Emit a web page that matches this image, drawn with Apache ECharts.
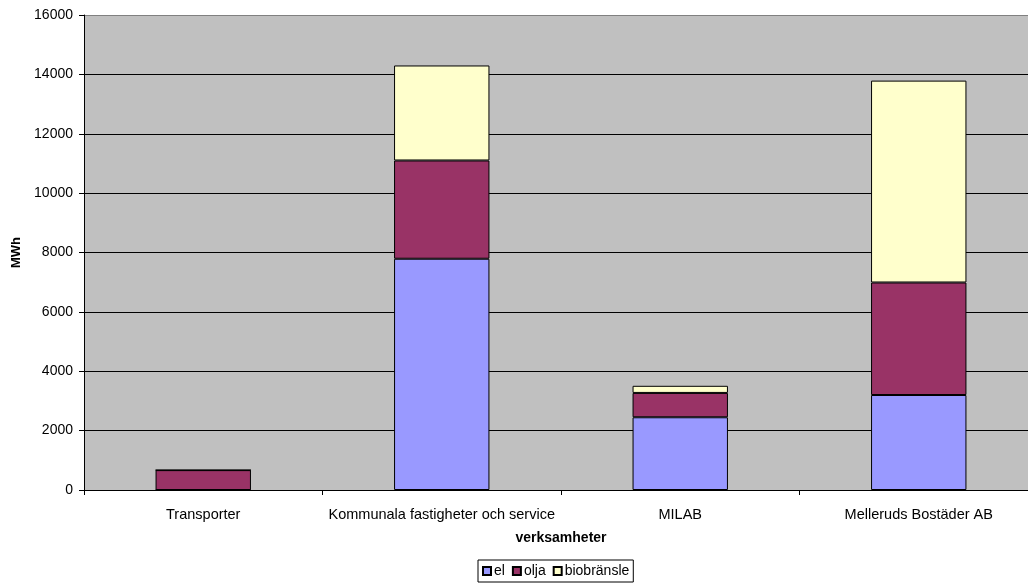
<!DOCTYPE html>
<html>
<head>
<meta charset="utf-8">
<script src="https://cdn.jsdelivr.net/npm/echarts@6/dist/echarts.min.js"></script>
<style>
  html, body { margin: 0; padding: 0; background: #fff; overflow: hidden; }
  /* The plot runs slightly past the right edge of the window */
  #chart { width: 1040px; height: 583px; }
</style>
</head>
<body>
<div id="chart"></div>
<script>
// Energy use per activity (MWh)
const categories = ['Transporter', 'Kommunala fastigheter och service', 'MILAB', 'Melleruds Bostäder AB'];
const el = [0, 7790, 2450, 3200];
const olja = [670, 3310, 820, 3790];
const biobransle = [0, 3200, 240, 6800];
const seriesNames = ['el', 'olja', 'biobränsle'];
const seriesColors = ['#9999FF', '#993366', '#FFFFCC'];

const font = 'Liberation Sans, Arial, sans-serif';
const chart = echarts.init(document.getElementById('chart'));

const gridLineColors = ['#000', '#000', '#000', '#000', '#000', '#000', '#000', '#000', '#808080'];

const makeSeries = (name, data, color) => ({
  name: name,
  type: 'bar',
  stack: 'total',
  data: data,
  barWidth: '40%',
  itemStyle: { color: color, borderColor: '#000', borderWidth: 1 },
  emphasis: { disabled: true }
});

chart.setOption({
  animation: false,
  textStyle: { fontFamily: font },
  grid: {
    left: 84, top: 15, right: 2, bottom: 93,
    show: true, backgroundColor: '#C0C0C0', borderWidth: 0
  },
  legend: {
    data: seriesNames,
    left: 478, top: 560,
    itemWidth: 8, itemHeight: 8, itemGap: 7,
    padding: [4, 4, 4, 4],
    borderColor: '#000', borderWidth: 1,
    textStyle: { fontFamily: font, fontSize: 14, color: '#000', padding: [0, 0, 0, -2] },
    icon: 'rect'
  },
  xAxis: {
    type: 'category',
    data: categories,
    name: 'verksamheter',
    nameLocation: 'middle',
    nameGap: 41,
    nameTextStyle: { fontFamily: font, fontSize: 14, fontWeight: 'bold', color: '#000' },
    axisLine: { lineStyle: { color: '#000', width: 1 } },
    axisTick: { show: true, length: 5, lineStyle: { color: '#000' } },
    axisLabel: { fontFamily: font, fontSize: 14.5, color: '#000', margin: 17, interval: 0 }
  },
  yAxis: {
    type: 'value',
    min: 0, max: 16000, interval: 2000,
    name: 'MWh',
    nameLocation: 'middle',
    nameRotate: 90,
    nameGap: 57,
    nameTextStyle: { fontFamily: font, fontSize: 13, fontWeight: 'bold', color: '#000' },
    axisLine: { show: true, lineStyle: { color: '#000', width: 1 } },
    axisTick: { show: true, length: 5, lineStyle: { color: '#000' } },
    axisLabel: { fontFamily: font, fontSize: 14, color: '#000', margin: 11, formatter: v => String(v) },
    splitLine: { show: true, lineStyle: { color: gridLineColors, width: 1 } }
  },
  series: [
    makeSeries(seriesNames[0], el, seriesColors[0]),
    makeSeries(seriesNames[1], olja, seriesColors[1]),
    makeSeries(seriesNames[2], biobransle, seriesColors[2])
  ]
});
</script>
</body>
</html>
